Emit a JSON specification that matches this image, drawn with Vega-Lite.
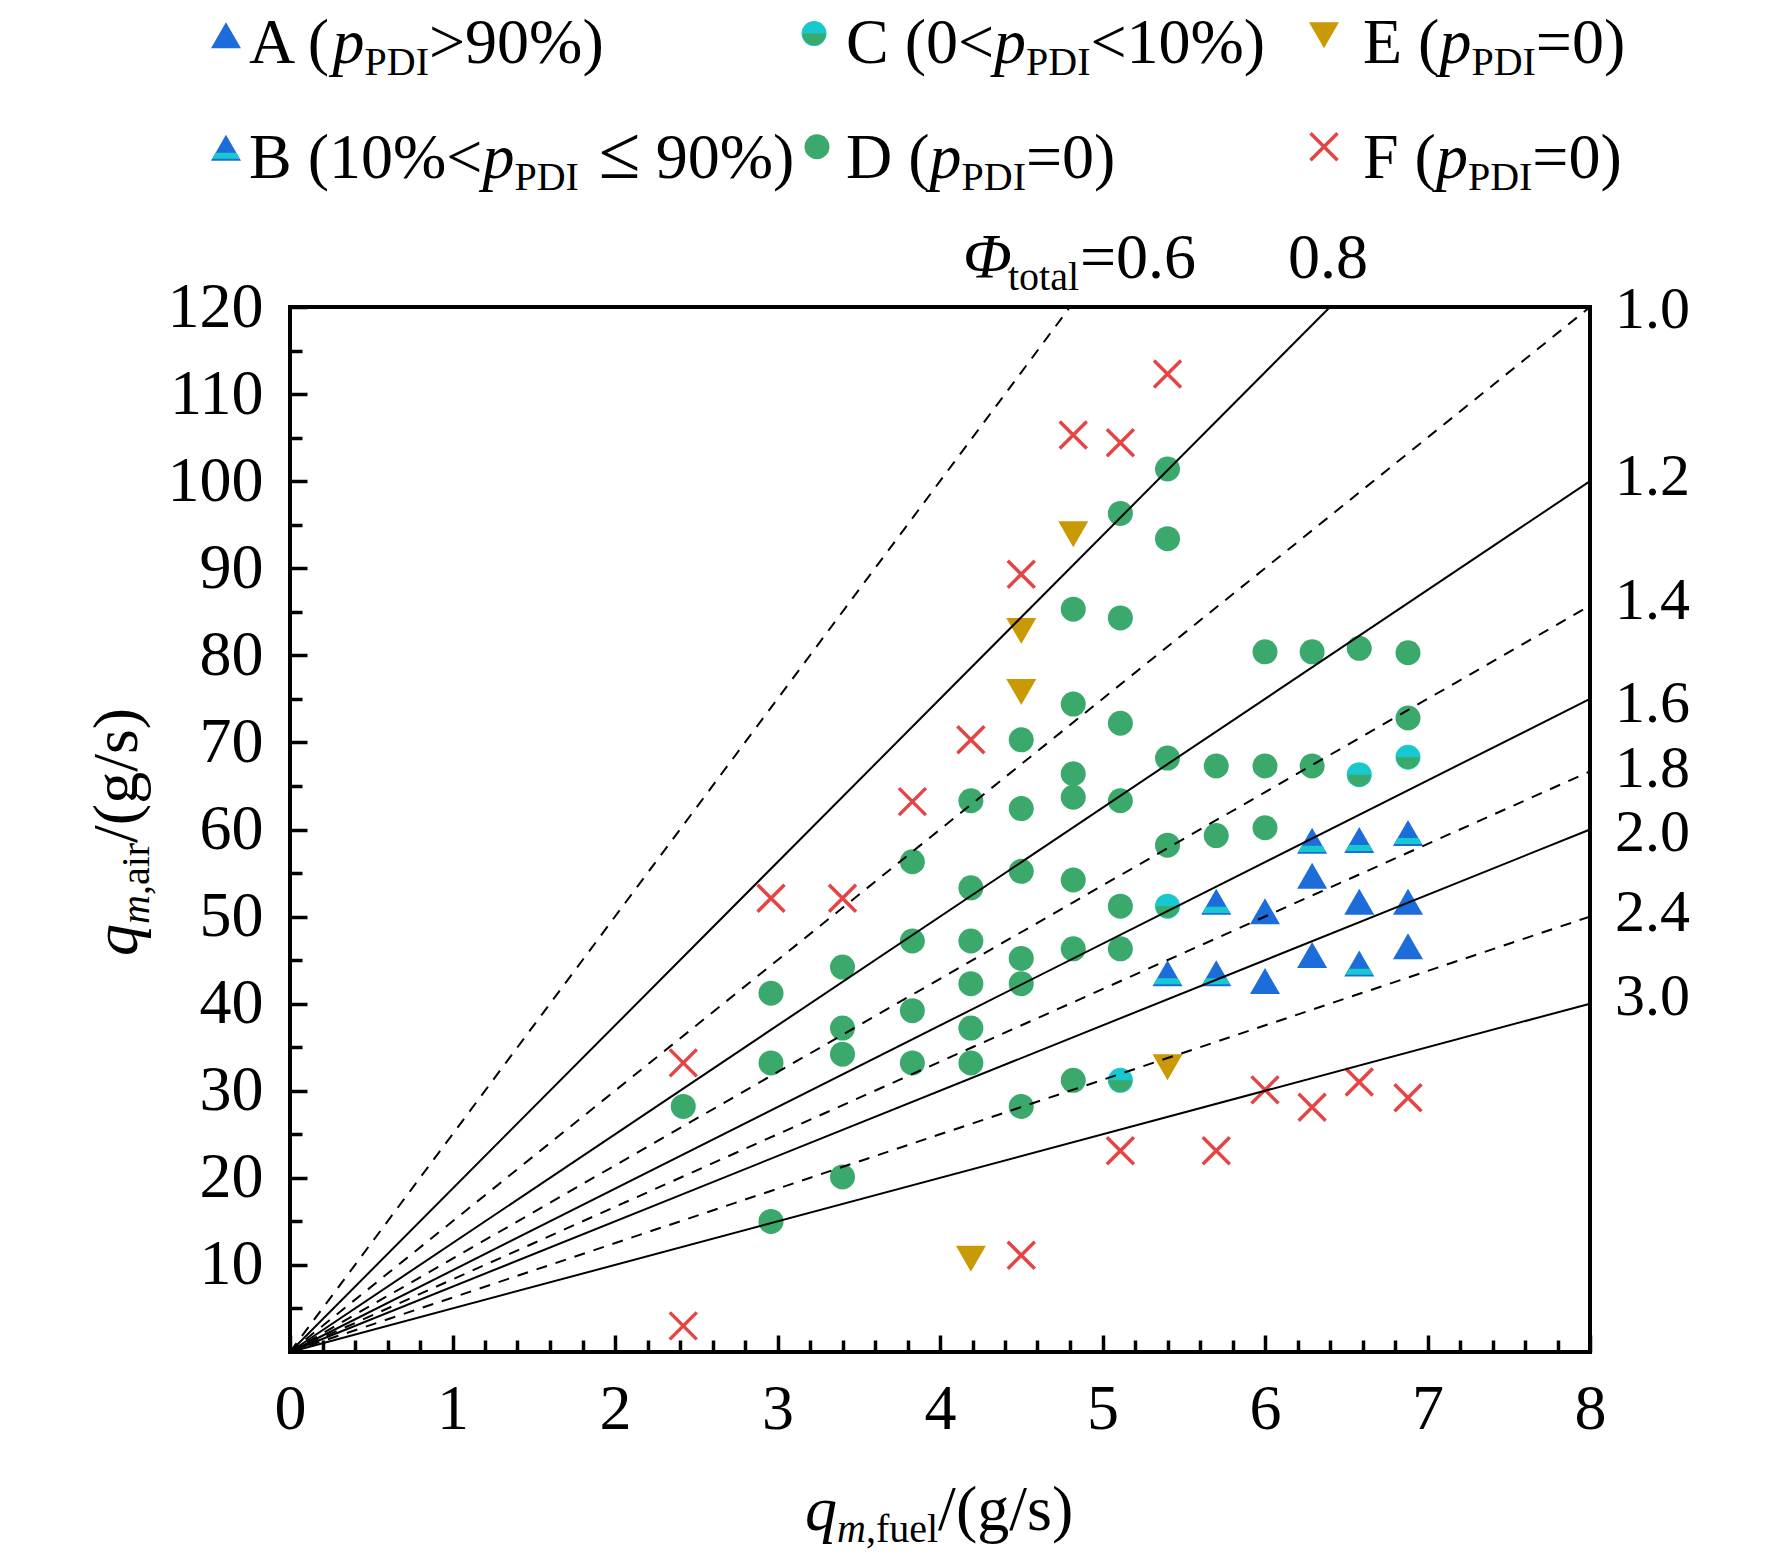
{
  "$schema": "https://vega.github.io/schema/vega-lite/v6.json",
  "autosize": "none",
  "width": 1300,
  "height": 1045,
  "padding": {"left": 290, "top": 307, "right": 182, "bottom": 211},
  "background": "white",
  "datasets": {
    "points": [
      {"g": "A", "x": 6.00, "y": 50.6}, {"g": "A", "x": 6.00, "y": 42.6}, {"g": "A", "x": 6.29, "y": 54.7},
      {"g": "A", "x": 6.29, "y": 45.6}, {"g": "A", "x": 6.58, "y": 51.7}, {"g": "A", "x": 6.88, "y": 51.7},
      {"g": "A", "x": 6.88, "y": 46.6},
      {"g": "B", "x": 5.40, "y": 43.5}, {"g": "B", "x": 5.70, "y": 51.7}, {"g": "B", "x": 5.70, "y": 43.5},
      {"g": "B", "x": 6.29, "y": 58.7}, {"g": "B", "x": 6.58, "y": 58.8}, {"g": "B", "x": 6.58, "y": 44.6},
      {"g": "B", "x": 6.88, "y": 59.6},
      {"g": "C", "x": 5.11, "y": 31.2}, {"g": "C", "x": 5.40, "y": 51.2}, {"g": "C", "x": 6.58, "y": 66.3},
      {"g": "C", "x": 6.88, "y": 68.3},
      {"g": "D", "x": 2.42, "y": 28.2},
      {"g": "D", "x": 2.96, "y": 41.2}, {"g": "D", "x": 2.96, "y": 33.2}, {"g": "D", "x": 2.96, "y": 15.0},
      {"g": "D", "x": 3.40, "y": 44.2}, {"g": "D", "x": 3.40, "y": 37.2}, {"g": "D", "x": 3.40, "y": 34.2},
      {"g": "D", "x": 3.40, "y": 20.1},
      {"g": "D", "x": 3.83, "y": 56.3}, {"g": "D", "x": 3.83, "y": 47.2}, {"g": "D", "x": 3.83, "y": 39.2},
      {"g": "D", "x": 3.83, "y": 33.2},
      {"g": "D", "x": 4.19, "y": 63.3}, {"g": "D", "x": 4.19, "y": 53.3}, {"g": "D", "x": 4.19, "y": 47.2},
      {"g": "D", "x": 4.19, "y": 42.3}, {"g": "D", "x": 4.19, "y": 37.2}, {"g": "D", "x": 4.19, "y": 33.2},
      {"g": "D", "x": 4.50, "y": 70.3}, {"g": "D", "x": 4.50, "y": 62.4}, {"g": "D", "x": 4.50, "y": 55.2},
      {"g": "D", "x": 4.50, "y": 45.2}, {"g": "D", "x": 4.50, "y": 42.3}, {"g": "D", "x": 4.50, "y": 28.2},
      {"g": "D", "x": 4.82, "y": 85.3}, {"g": "D", "x": 4.82, "y": 74.4}, {"g": "D", "x": 4.82, "y": 66.4},
      {"g": "D", "x": 4.82, "y": 63.7}, {"g": "D", "x": 4.82, "y": 54.2}, {"g": "D", "x": 4.82, "y": 46.3},
      {"g": "D", "x": 4.82, "y": 31.2},
      {"g": "D", "x": 5.11, "y": 96.3}, {"g": "D", "x": 5.11, "y": 84.3}, {"g": "D", "x": 5.11, "y": 72.2},
      {"g": "D", "x": 5.11, "y": 63.3}, {"g": "D", "x": 5.11, "y": 51.2}, {"g": "D", "x": 5.11, "y": 46.3},
      {"g": "D", "x": 5.40, "y": 101.4}, {"g": "D", "x": 5.40, "y": 93.4}, {"g": "D", "x": 5.40, "y": 68.2},
      {"g": "D", "x": 5.40, "y": 58.2},
      {"g": "D", "x": 5.70, "y": 67.3}, {"g": "D", "x": 5.70, "y": 59.3},
      {"g": "D", "x": 6.00, "y": 80.4}, {"g": "D", "x": 6.00, "y": 67.3}, {"g": "D", "x": 6.00, "y": 60.2},
      {"g": "D", "x": 6.29, "y": 80.4}, {"g": "D", "x": 6.29, "y": 67.3},
      {"g": "D", "x": 6.58, "y": 80.8},
      {"g": "D", "x": 6.88, "y": 80.3}, {"g": "D", "x": 6.88, "y": 72.8},
      {"g": "E", "x": 4.82, "y": 93.9}, {"g": "E", "x": 4.50, "y": 82.8}, {"g": "E", "x": 4.50, "y": 75.8},
      {"g": "E", "x": 5.40, "y": 32.7}, {"g": "E", "x": 4.19, "y": 10.7},
      {"g": "F", "x": 2.42, "y": 33.2}, {"g": "F", "x": 2.42, "y": 3.0}, {"g": "F", "x": 2.96, "y": 52.1},
      {"g": "F", "x": 3.40, "y": 52.1}, {"g": "F", "x": 3.83, "y": 63.2}, {"g": "F", "x": 4.19, "y": 70.3},
      {"g": "F", "x": 4.50, "y": 89.3}, {"g": "F", "x": 4.50, "y": 11.1}, {"g": "F", "x": 4.82, "y": 105.3},
      {"g": "F", "x": 5.11, "y": 104.4}, {"g": "F", "x": 5.40, "y": 112.3}, {"g": "F", "x": 5.11, "y": 23.1},
      {"g": "F", "x": 5.70, "y": 23.1}, {"g": "F", "x": 6.00, "y": 30.1}, {"g": "F", "x": 6.29, "y": 28.1},
      {"g": "F", "x": 6.58, "y": 31.0}, {"g": "F", "x": 6.88, "y": 29.2},
      {"g": "A", "kind": "key", "x": -0.394, "y": 151.2},
      {"g": "B", "kind": "key", "x": -0.394, "y": 138.3},
      {"g": "C", "kind": "key", "x": 3.225, "y": 151.4},
      {"g": "D", "kind": "key", "x": 3.243, "y": 138.4},
      {"g": "E", "kind": "key", "x": 6.363, "y": 151.2},
      {"g": "F", "kind": "key", "x": 6.363, "y": 138.4}
    ],
    "lines": [
      {"phi": "0.6", "x": 0, "y": 0}, {"phi": "0.6", "x": 4.8, "y": 120},
      {"phi": "0.8", "x": 0, "y": 0}, {"phi": "0.8", "x": 6.4, "y": 120},
      {"phi": "1.0", "x": 0, "y": 0}, {"phi": "1.0", "x": 8, "y": 120},
      {"phi": "1.2", "x": 0, "y": 0}, {"phi": "1.2", "x": 8, "y": 100},
      {"phi": "1.4", "x": 0, "y": 0}, {"phi": "1.4", "x": 8, "y": 85.71},
      {"phi": "1.6", "x": 0, "y": 0}, {"phi": "1.6", "x": 8, "y": 75},
      {"phi": "1.8", "x": 0, "y": 0}, {"phi": "1.8", "x": 8, "y": 66.67},
      {"phi": "2.0", "x": 0, "y": 0}, {"phi": "2.0", "x": 8, "y": 60},
      {"phi": "2.4", "x": 0, "y": 0}, {"phi": "2.4", "x": 8, "y": 50},
      {"phi": "3.0", "x": 0, "y": 0}, {"phi": "3.0", "x": 8, "y": 40}
    ],
    "t_roman": [
      {"t": "A (", "x": -0.2523, "y": 148.03},
      {"t": ">90%)", "x": 0.8554, "y": 148.03},
      {"t": "B (10%<", "x": -0.2523, "y": 134.82},
      {"t": "90%)", "x": 2.25, "y": 134.82},
      {"t": "C (0<", "x": 3.4215, "y": 148.03},
      {"t": "<10%)", "x": 4.9255, "y": 148.03},
      {"t": "D (", "x": 3.4215, "y": 134.82},
      {"t": "=0)", "x": 4.5292, "y": 134.82},
      {"t": "E (", "x": 6.6031, "y": 148.03},
      {"t": "=0)", "x": 7.6665, "y": 148.03},
      {"t": "F (", "x": 6.6031, "y": 134.82},
      {"t": "=0)", "x": 7.6449, "y": 134.82},
      {"t": "=0.6", "x": 4.8615, "y": 123.33},
      {"t": "0.8", "x": 6.1415, "y": 123.33},
      {"t": "/(g/s)", "x": 3.9883, "y": -20.44}
    ],
    "t_rel": [
      {"t": "≤", "x": 1.9, "y": 134.82}
    ],
    "t_phi": [
      {"t": "1.0", "x": 8.154, "y": 117.6},
      {"t": "1.2", "x": 8.154, "y": 98.4},
      {"t": "1.4", "x": 8.154, "y": 84.2},
      {"t": "1.6", "x": 8.154, "y": 72.3},
      {"t": "1.8", "x": 8.154, "y": 64.9},
      {"t": "2.0", "x": 8.154, "y": 57.5},
      {"t": "2.4", "x": 8.154, "y": 48.4},
      {"t": "3.0", "x": 8.154, "y": 38.7}
    ],
    "t_italic": [
      {"t": "p", "x": 0.2615, "y": 148.03},
      {"t": "p", "x": 1.184, "y": 134.82},
      {"t": "p", "x": 4.3323, "y": 148.03},
      {"t": "p", "x": 3.9354, "y": 134.82},
      {"t": "p", "x": 7.0732, "y": 148.03},
      {"t": "p", "x": 7.0517, "y": 134.82},
      {"t": "Φ", "x": 4.1415, "y": 123.33},
      {"t": "q", "x": 3.1692, "y": -20.44}
    ],
    "t_sub": [
      {"t": "PDI", "x": 0.4585, "y": 148.03},
      {"t": "PDI", "x": 1.3809, "y": 134.82},
      {"t": "PDI", "x": 4.5292, "y": 148.03},
      {"t": "PDI", "x": 4.1323, "y": 134.82},
      {"t": "PDI", "x": 7.2702, "y": 148.03},
      {"t": "PDI", "x": 7.2486, "y": 134.82},
      {"t": "total", "x": 4.4185, "y": 123.33},
      {"t": ",fuel", "x": 3.544, "y": -20.44}
    ],
    "t_subitalic": [
      {"t": "m", "x": 3.3662, "y": -20.44}
    ],
    "r_roman": [{"t": "/(g/s)", "x": -0.9415, "y": 58.46}],
    "r_italic": [{"t": "q", "x": -0.9415, "y": 45.48}],
    "r_sub": [{"t": ",air", "x": -0.9415, "y": 52.47}],
    "r_subitalic": [{"t": "m", "x": -0.9415, "y": 49.15}]
  },
  "encoding": {
    "x": {"field": "x", "type": "quantitative", "scale": {"domain": [0, 8], "nice": false, "zero": false}, "axis": null},
    "y": {"field": "y", "type": "quantitative", "scale": {"domain": [0, 120], "nice": false, "zero": false}, "axis": null}
  },
  "layer": [
    {
      "data": {"name": "points"},
      "transform": [{"filter": "datum.g == 'D'"}],
      "mark": {"type": "point", "shape": "circle", "filled": true, "color": "#3aa96b", "size": 625, "opacity": 1},
      "encoding": {
        "x": {"field": "x", "type": "quantitative", "axis": {
          "orient": "bottom", "values": [0, 1, 2, 3, 4, 5, 6, 7, 8], "tickSize": -17, "labelPadding": 42,
          "title": null, "domain": false, "grid": false, "labelOverlap": false, "labelFlush": false
        }},
        "y": {"field": "y", "type": "quantitative", "axis": {
          "orient": "left", "values": [10, 20, 30, 40, 50, 60, 70, 80, 90, 100, 110, 120], "tickSize": -17, "labelPadding": 44,
          "title": null, "domain": false, "grid": false, "labelOverlap": false, "labelFlush": false
        }}
      }
    },
    {
      "data": {"name": "points"},
      "transform": [{"filter": "datum.g == 'C'"}],
      "mark": {"type": "point", "shape": "circle", "filled": true, "color": "#17c9cf", "size": 625, "opacity": 1},
      "encoding": {
        "x": {"field": "x", "type": "quantitative", "axis": {
          "orient": "bottom", "values": [0.2, 0.4, 0.6, 0.8, 1.2, 1.4, 1.6, 1.8, 2.2, 2.4, 2.6, 2.8, 3.2, 3.4, 3.6, 3.8, 4.2, 4.4, 4.6, 4.8, 5.2, 5.4, 5.6, 5.8, 6.2, 6.4, 6.6, 6.8, 7.2, 7.4, 7.6, 7.8],
          "tickSize": -12, "labels": false, "title": null, "domain": false, "grid": false
        }},
        "y": {"field": "y", "type": "quantitative", "axis": {
          "orient": "left", "values": [5, 15, 25, 35, 45, 55, 65, 75, 85, 95, 105, 115],
          "tickSize": -12, "labels": false, "title": null, "domain": false, "grid": false
        }}
      }
    },
    {
      "data": {"name": "points"},
      "transform": [{"filter": "datum.g == 'C'"}],
      "mark": {"type": "point", "shape": "M-1,0A1,1,0,0,0,1,0Z", "filled": true, "color": "#3aa96b", "size": 540, "opacity": 1}
    },
    {
      "data": {"name": "points"},
      "transform": [{"filter": "datum.g == 'A' || datum.g == 'B'"}],
      "mark": {"type": "point", "shape": "triangle-up", "filled": true, "color": "#1c6cd9", "size": 900, "opacity": 1}
    },
    {
      "data": {"name": "points"},
      "transform": [{"filter": "datum.g == 'B'"}],
      "mark": {"type": "point", "shape": "M-0.69,0.335L0.69,0.335L0.92,0.74L-0.92,0.74Z", "filled": true, "color": "#17c9cf", "size": 900, "opacity": 1}
    },
    {
      "data": {"name": "points"},
      "transform": [{"filter": "datum.g == 'E'"}],
      "mark": {"type": "point", "shape": "triangle-down", "filled": true, "color": "#c99a05", "size": 900, "opacity": 1}
    },
    {
      "data": {"name": "points"},
      "transform": [{"filter": "datum.g == 'F'"}],
      "mark": {"type": "point", "shape": "M-1,-1L1,1M1,-1L-1,1", "filled": false, "color": "#e54444", "strokeWidth": 3.5, "size": 729, "opacity": 1}
    },
    {
      "data": {"name": "lines"},
      "transform": [{"filter": {"field": "phi", "oneOf": ["0.8", "1.2", "1.6", "2.0", "3.0"]}}],
      "mark": {"type": "line", "color": "black", "strokeWidth": 2},
      "encoding": {"detail": {"field": "phi"}}
    },
    {
      "data": {"name": "lines"},
      "transform": [{"filter": {"field": "phi", "oneOf": ["0.6", "1.0", "1.4", "1.8", "2.4"]}}],
      "mark": {"type": "line", "color": "black", "strokeWidth": 2, "strokeDash": [11, 9]},
      "encoding": {"detail": {"field": "phi"}}
    },
    {
      "data": {"name": "t_roman"},
      "mark": {"type": "text", "font": "Liberation Serif", "fontSize": 64, "align": "left", "baseline": "alphabetic", "color": "black"},
      "encoding": {"text": {"field": "t"}}
    },
    {
      "data": {"name": "t_rel"},
      "mark": {"type": "text", "font": "Liberation Serif", "fontSize": 76, "align": "left", "baseline": "alphabetic", "color": "black"},
      "encoding": {"text": {"field": "t"}}
    },
    {
      "data": {"name": "t_phi"},
      "mark": {"type": "text", "font": "Liberation Serif", "fontSize": 60, "align": "left", "baseline": "alphabetic", "color": "black"},
      "encoding": {"text": {"field": "t"}}
    },
    {
      "data": {"name": "t_italic"},
      "mark": {"type": "text", "font": "Liberation Serif", "fontStyle": "italic", "fontSize": 64, "align": "left", "baseline": "alphabetic", "color": "black"},
      "encoding": {"text": {"field": "t"}}
    },
    {
      "data": {"name": "t_sub"},
      "mark": {"type": "text", "font": "Liberation Serif", "fontSize": 40, "dy": 12, "align": "left", "baseline": "alphabetic", "color": "black"},
      "encoding": {"text": {"field": "t"}}
    },
    {
      "data": {"name": "t_subitalic"},
      "mark": {"type": "text", "font": "Liberation Serif", "fontStyle": "italic", "fontSize": 40, "dy": 12, "align": "left", "baseline": "alphabetic", "color": "black"},
      "encoding": {"text": {"field": "t"}}
    },
    {
      "data": {"name": "r_roman"},
      "mark": {"type": "text", "font": "Liberation Serif", "fontSize": 64, "angle": 270, "align": "left", "baseline": "alphabetic", "color": "black"},
      "encoding": {"text": {"field": "t"}}
    },
    {
      "data": {"name": "r_italic"},
      "mark": {"type": "text", "font": "Liberation Serif", "fontStyle": "italic", "fontSize": 64, "angle": 270, "align": "left", "baseline": "alphabetic", "color": "black"},
      "encoding": {"text": {"field": "t"}}
    },
    {
      "data": {"name": "r_sub"},
      "mark": {"type": "text", "font": "Liberation Serif", "fontSize": 40, "dy": 12, "angle": 270, "align": "left", "baseline": "alphabetic", "color": "black"},
      "encoding": {"text": {"field": "t"}}
    },
    {
      "data": {"name": "r_subitalic"},
      "mark": {"type": "text", "font": "Liberation Serif", "fontStyle": "italic", "fontSize": 40, "dy": 12, "angle": 270, "align": "left", "baseline": "alphabetic", "color": "black"},
      "encoding": {"text": {"field": "t"}}
    }
  ],
  "resolve": {"axis": {"x": "independent", "y": "independent"}},
  "config": {
    "view": {"stroke": "black", "strokeWidth": 4},
    "axis": {
      "labelFont": "Liberation Serif",
      "labelFontSize": 64,
      "labelColor": "black",
      "tickColor": "black",
      "tickWidth": 3.5
    }
  }
}
